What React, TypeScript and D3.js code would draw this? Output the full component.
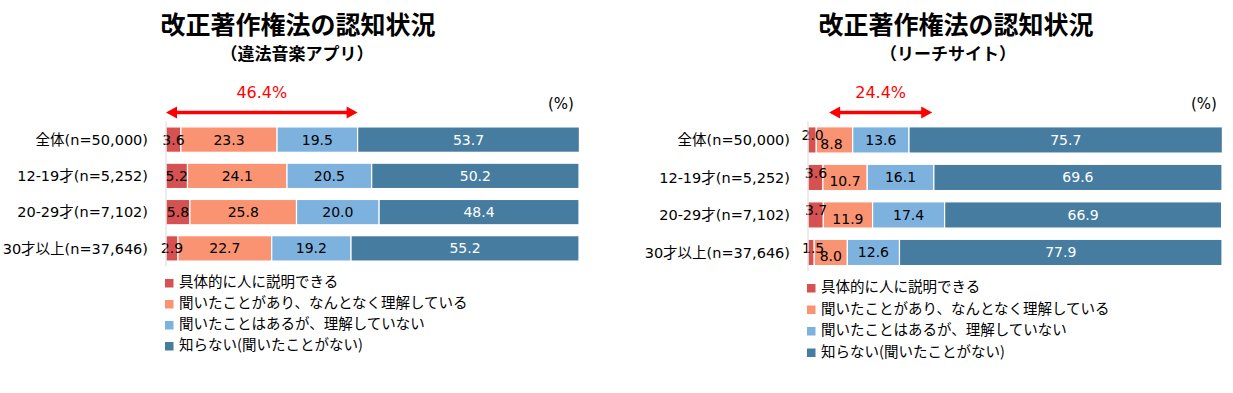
import React from "react";
import * as d3 from "d3";

const categories = ["全体(n=50,000)", "12-19才(n=5,252)", "20-29才(n=7,102)", "30才以上(n=37,646)"];
const seriesNames = [
  "具体的に人に説明できる",
  "聞いたことがあり、なんとなく理解している",
  "聞いたことはあるが、理解していない",
  "知らない(聞いたことがない)",
];
const colors = ["#d65252", "#f99372", "#7db2df", "#477ca1"];

// 違法音楽アプリ
const appValues = [
  [3.6, 23.3, 19.5, 53.7],
  [5.2, 24.1, 20.5, 50.2],
  [5.8, 25.8, 20.0, 48.4],
  [2.9, 22.7, 19.2, 55.2],
];
// リーチサイト
const siteValues = [
  [2.0, 8.8, 13.6, 75.7],
  [3.6, 10.7, 16.1, 69.6],
  [3.7, 11.9, 17.4, 66.9],
  [1.5, 8.0, 12.6, 77.9],
];

const LATIN = "'DejaVu Sans', 'Noto Sans CJK JP', sans-serif";
const CJK = "'Noto Sans CJK JP', 'Noto Sans', sans-serif";

interface Cfg {
  title: string;
  subtitle: string;
  values: number[][];
  awareness: string;
  arrowFrom: number;
  arrowTo: number;
  x0: number;
  x1: number;
  titleX: number;
  subX: number;
  bandTop: number;
  bandBottom: number;
  legendY: number;
  legendStep: number;
  nudge?: (row: number, col: number) => [number, number];
}

const Chart: React.FC<{ cfg: Cfg }> = ({ cfg }) => {
  const x = d3.scaleLinear().domain([0, 100]).range([cfg.x0, cfg.x1]);
  const y = d3
    .scaleBand<string>()
    .domain(categories)
    .range([cfg.bandTop, cfg.bandBottom])
    .paddingInner(0.3)
    .paddingOuter(0.15);

  // stack each row: [start, end, value]
  const stacked = cfg.values.map((row) => {
    let acc = 0;
    return row.map((v) => {
      const s = acc;
      acc += v;
      return [s, acc, v];
    });
  });

  const arrowY = 112.5;
  const a0 = x(cfg.arrowFrom);
  const a1 = x(cfg.arrowTo);
  const mid = (c: string) => (y(c) as number) + y.bandwidth() / 2;

  return (
    <g>
      <text x={cfg.titleX} y={34} textAnchor="middle" fontSize={25} fontWeight="bold" fontFamily={CJK} fill="#000">
        {cfg.title}
      </text>
      <text x={cfg.subX} y={60} textAnchor="middle" fontSize={17} fontWeight="bold" fontFamily={CJK} fill="#000">
        {cfg.subtitle}
      </text>
      <text x={(a0 + a1) / 2} y={98} textAnchor="middle" fontSize={16} fontFamily={LATIN} fill="#ff0000">
        {cfg.awareness}
      </text>
      <line x1={a0 + 9} x2={a1 - 9} y1={arrowY} y2={arrowY} stroke="#ff0000" strokeWidth={3.5} />
      <path d={`M${a0},${arrowY} l11,-6 l0,12 z M${a1},${arrowY} l-11,-6 l0,12 z`} fill="#ff0000" />
      <text x={x(100) - 18} y={109} textAnchor="middle" fontSize={15} fontFamily={LATIN} fill="#000">
        (%)
      </text>

      {categories.map((c, i) => (
        <g key={c}>
          <text
            x={cfg.x0 - 18}
            y={mid(c)}
            dy="0.36em"
            textAnchor="end"
            fontSize={14.5}
            fontFamily={LATIN}
            fill="#000"
          >
            {c}
          </text>
          {stacked[i].map(([s, e], j) => (
            <rect
              key={j}
              x={x(s)}
              y={y(c)}
              width={x(e) - x(s)}
              height={y.bandwidth()}
              fill={colors[j]}
              stroke="#fff"
              strokeWidth={1.2}
            />
          ))}
        </g>
      ))}

      {categories.map((c, i) =>
        stacked[i].map(([s, e, v], j) => {
          const [dx, dy] = cfg.nudge ? cfg.nudge(i, j) : [0, 0];
          return (
            <text
              key={`${c}-${j}`}
              x={(x(s) + x(e)) / 2 + dx}
              y={mid(c) + dy}
              dy="0.36em"
              textAnchor="middle"
              fontSize={14}
              fontFamily={LATIN}
              fill={j === 3 ? "#fff" : "#000"}
            >
              {v.toFixed(1)}
            </text>
          );
        })
      )}

      <line x1={cfg.x0} x2={cfg.x0} y1={cfg.bandTop} y2={cfg.bandBottom} stroke="#d9d9d9" strokeWidth={1} />

      {seriesNames.map((n, k) => (
        <g key={n} transform={`translate(${cfg.x0},${cfg.legendY + k * cfg.legendStep})`}>
          <rect x={-1} y={-3} width={8.5} height={8.5} fill={colors[k]} />
          <text x={13} y={0} dy="0.35em" fontSize={14.5} fontFamily={CJK} fill="#000">
            {n}
          </text>
        </g>
      ))}
    </g>
  );
};

// labels of the thin segments in the right chart are pushed up / down
const siteNudge = (row: number, col: number): [number, number] => {
  if (col === 0) return [row === 3 ? 2 : 0.5, -4.5];
  if (col === 1) return [row === 0 ? -3 : 0, 3.8];
  return [0, 0];
};

const left: Cfg = {
  title: "改正著作権法の認知状況",
  subtitle: "（違法音楽アプリ）",
  values: appValues,
  awareness: "46.4%",
  arrowFrom: 0,
  arrowTo: 46.4,
  x0: 166,
  x1: 579,
  titleX: 298,
  subX: 297,
  bandTop: 121.5,
  bandBottom: 266.5,
  legendY: 282,
  legendStep: 21,
};

const right: Cfg = {
  title: "改正著作権法の認知状況",
  subtitle: "（リーチサイト）",
  values: siteValues,
  awareness: "24.4%",
  arrowFrom: 5.1,
  arrowTo: 30,
  x0: 808,
  x1: 1222,
  titleX: 956,
  subX: 948,
  bandTop: 121.2,
  bandBottom: 271.2,
  legendY: 287,
  legendStep: 21.5,
  nudge: siteNudge,
};

export default function App() {
  return (
    <svg width={1233} height={393} style={{ position: "absolute", left: 0, top: 0, background: "#fff" }}>
      <rect width={1233} height={393} fill="#fff" />
      <Chart cfg={left} />
      <Chart cfg={right} />
    </svg>
  );
}
